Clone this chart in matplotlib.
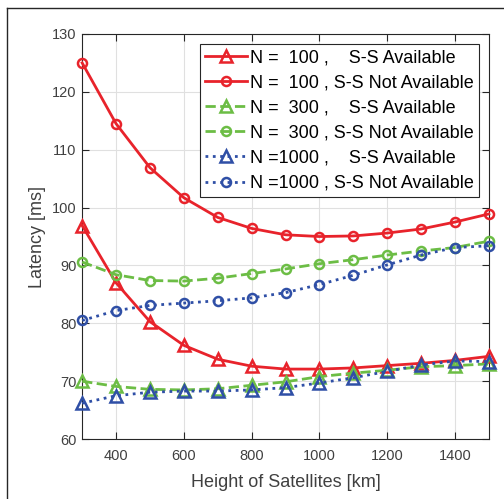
import matplotlib
matplotlib.use("Agg")
import matplotlib.pyplot as plt
from matplotlib.lines import Line2D

plt.rcParams['font.family'] = ['Liberation Sans', 'DejaVu Sans']

height = [300, 400, 500, 600, 700, 800, 900, 1000, 1100, 1200, 1300, 1400, 1500]

n100_ss = [96.9, 87.0, 80.3, 76.2, 73.8, 72.6, 72.1, 72.1, 72.3, 72.7, 73.1, 73.6, 74.3]
n100_noss = [125.0, 114.5, 106.9, 101.7, 98.3, 96.4, 95.3, 95.0, 95.1, 95.6, 96.3, 97.5, 98.9]
n300_ss = [70.0, 69.1, 68.6, 68.5, 68.7, 69.3, 69.9, 70.8, 71.4, 71.9, 72.5, 72.7, 73.0]
n300_noss = [90.6, 88.4, 87.4, 87.3, 87.8, 88.6, 89.4, 90.3, 91.0, 91.8, 92.5, 93.1, 94.2]
n1000_ss = [66.2, 67.5, 68.1, 68.3, 68.3, 68.5, 68.9, 69.7, 70.6, 71.7, 72.8, 73.5, 73.4]
n1000_noss = [80.5, 82.2, 83.1, 83.5, 83.9, 84.4, 85.3, 86.7, 88.3, 90.1, 91.8, 93.1, 93.4]

labels = ['N =  100 ,    S-S Available',
          'N =  100 , S-S Not Available',
          'N =  300 ,    S-S Available',
          'N =  300 , S-S Not Available',
          'N =1000 ,    S-S Available',
          'N =1000 , S-S Not Available']

red = '#e8232b'
green = '#6cbd45'
blue = '#2f4fa6'

fig = plt.figure(figsize=(5.04, 4.99), dpi=100)
ax = fig.add_axes([0.163, 0.120, 0.807, 0.812])

series = [
  (n100_ss, red, '-', '^'),
  (n100_noss, red, '-', 'o'),
  (n300_ss, green, '--', '^'),
  (n300_noss, green, '--', 'o'),
  (n1000_ss, blue, ':', '^'),
  (n1000_noss, blue, ':', 'o'),
]
for (vals, c, ls, m), lab in zip(series, labels):
  ms = 8 if m == '^' else 6.5
  ax.plot(height, vals, color=c, linestyle=ls, linewidth=2, marker=m,
          markersize=ms, markerfacecolor='none', markeredgewidth=1.8,
          label=lab, clip_on=False, zorder=3)

ax.set_xlim(300, 1500)
ax.set_ylim(60, 130)
ax.set_xticks([400, 600, 800, 1000, 1200, 1400])
ax.set_yticks(range(60, 131, 10))
ax.grid(True, color='#e0e0e0', linewidth=0.8)
ax.set_axisbelow(True)
ax.tick_params(direction='in', top=True, right=True, length=5, width=0.8,
               labelsize=10.5, colors='#262626', labelcolor='#404040')
ax.tick_params(axis='x', pad=7)
ax.tick_params(axis='y', pad=4)
for s in ax.spines.values():
  s.set_color('#262626')
  s.set_linewidth(0.8)

ax.set_xlabel('Height of Satellites [km]', fontsize=13, color='#404040', labelpad=8)
ax.set_ylabel('Latency [ms]', fontsize=13, color='#404040', labelpad=4)

leg = ax.legend(loc='upper right', fontsize=13, handlelength=2.3, handletextpad=0.15,
                borderpad=0.3, labelspacing=0.45, borderaxespad=0.55,
                fancybox=False, framealpha=1, edgecolor='#262626')
leg.get_frame().set_linewidth(0.8)

# frame lines on the left and top edges of the picture
fig.add_artist(Line2D([0.014, 0.014], [0.0, 0.984], color='#262626', lw=1, transform=fig.transFigure))
fig.add_artist(Line2D([0.014, 1.0], [0.984, 0.984], color='#262626', lw=1, transform=fig.transFigure))

fig.savefig('out.png', dpi=100)
